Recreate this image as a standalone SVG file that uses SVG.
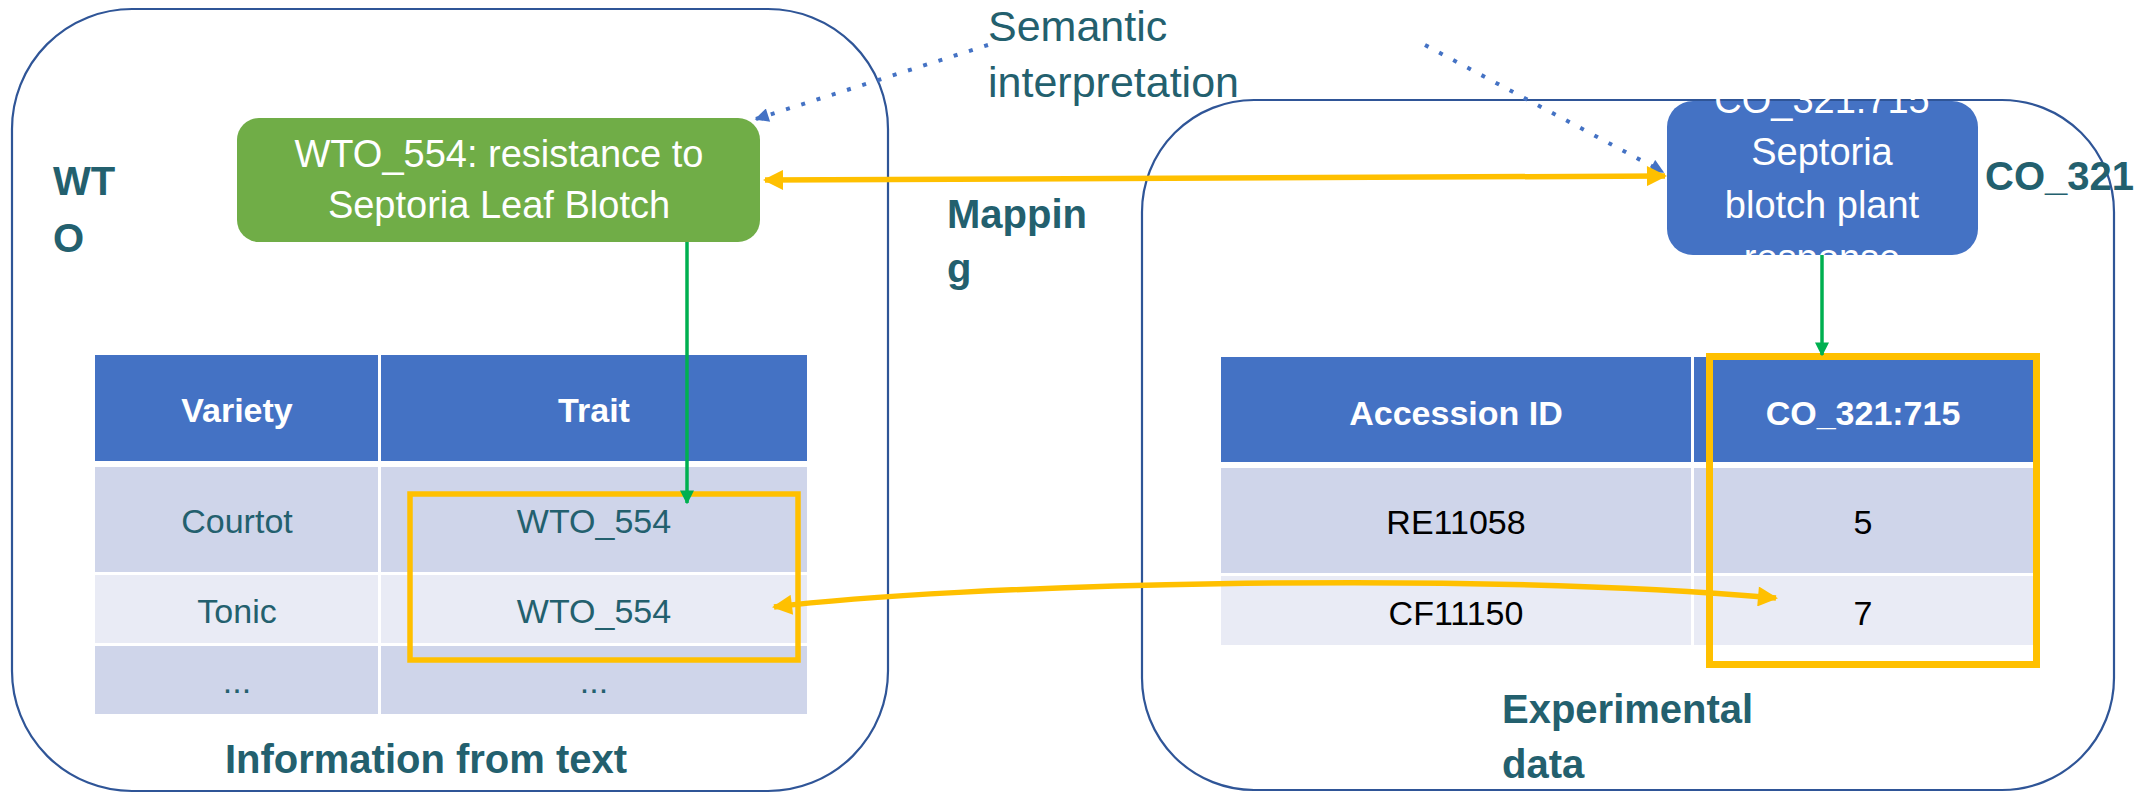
<svg xmlns="http://www.w3.org/2000/svg" width="2134" height="794" viewBox="0 0 2134 794">
<style>
text{font-family:"Liberation Sans",Arial,sans-serif}
.cont{fill:none;stroke:#2f5597;stroke-width:2.2}
.lbl{font-weight:bold;font-size:40px;fill:#23606e}
.sem{font-size:43px;fill:#23606e}
.box{font-size:38px;fill:#ffffff;text-anchor:middle}
.hd{font-weight:bold;font-size:34px;fill:#ffffff;text-anchor:middle}
.tl{font-size:34px;fill:#23606e;text-anchor:middle}
.tr{font-size:34px;fill:#000000;text-anchor:middle}
.h{fill:#4472c4}
.r1{fill:#cfd5ea}
.r2{fill:#e9ebf5}
.yl{fill:none;stroke:#ffc000;stroke-width:5.5}
.gl{fill:none;stroke:#00b050;stroke-width:3.5}
.dl{fill:none;stroke:#4472c4;stroke-width:4;stroke-dasharray:4 12}
</style>
<defs>
<marker id="ya" viewBox="0 0 10 10" refX="9" refY="5" markerWidth="22" markerHeight="20" markerUnits="userSpaceOnUse" orient="auto-start-reverse"><path d="M0,0 L10,5 L0,10 z" fill="#ffc000"/></marker>
<marker id="ga" viewBox="0 0 10 10" refX="9" refY="5" markerWidth="14" markerHeight="14" markerUnits="userSpaceOnUse" orient="auto"><path d="M0,0 L10,5 L0,10 z" fill="#00b050"/></marker>
<marker id="ba" viewBox="0 0 10 10" refX="9" refY="5" markerWidth="16" markerHeight="14" markerUnits="userSpaceOnUse" orient="auto"><path d="M0,0 L10,5 L0,10 z" fill="#4472c4"/></marker>
</defs>
<rect width="2134" height="794" fill="#ffffff"/>

<g id="wto-container">
<rect class="cont" x="12" y="9" width="876" height="782" rx="120" ry="120"/>
<text class="lbl" x="53" y="195">WT</text>
<text class="lbl" x="53" y="252">O</text>
<text class="lbl" x="426" y="773" text-anchor="middle">Information from text</text>
</g>

<g id="co-container">
<rect class="cont" x="1142" y="100" width="972" height="690" rx="112" ry="112"/>
<text class="lbl" x="1502" y="723">Experimental</text>
<text class="lbl" x="1502" y="778">data</text>
</g>

<g id="left-table">
<rect class="h" x="95" y="355" width="283" height="106"/>
<rect class="h" x="381" y="355" width="426" height="106"/>
<rect class="r1" x="95" y="467" width="283" height="105"/>
<rect class="r1" x="381" y="467" width="426" height="105"/>
<rect class="r2" x="95" y="575" width="283" height="68"/>
<rect class="r2" x="381" y="575" width="426" height="68"/>
<rect class="r1" x="95" y="646" width="283" height="68"/>
<rect class="r1" x="381" y="646" width="426" height="68"/>
<text class="hd" x="237" y="422">Variety</text>
<text class="hd" x="594" y="422">Trait</text>
<text class="tl" x="237" y="533">Courtot</text>
<text class="tl" x="594" y="533">WTO_554</text>
<text class="tl" x="237" y="623">Tonic</text>
<text class="tl" x="594" y="623">WTO_554</text>
<text class="tl" x="237" y="693">...</text>
<text class="tl" x="594" y="693">...</text>
</g>

<g id="right-table">
<rect class="h" x="1221" y="357" width="470" height="105"/>
<rect class="h" x="1694" y="357" width="339" height="105"/>
<rect class="r1" x="1221" y="468" width="470" height="105"/>
<rect class="r1" x="1694" y="468" width="339" height="105"/>
<rect class="r2" x="1221" y="576" width="470" height="69"/>
<rect class="r2" x="1694" y="576" width="339" height="69"/>
<text class="hd" x="1456" y="425">Accession ID</text>
<text class="hd" x="1863" y="425">CO_321:715</text>
<text class="tr" x="1456" y="534">RE11058</text>
<text class="tr" x="1863" y="534">5</text>
<text class="tr" x="1456" y="625">CF11150</text>
<text class="tr" x="1863" y="625">7</text>
</g>

<g id="wto-554">
<rect x="237" y="118" width="523" height="124" rx="22" ry="22" fill="#70ad47"/>
<text class="box" x="499" y="167">WTO_554: resistance to</text>
<text class="box" x="499" y="218">Septoria Leaf Blotch</text>
</g>

<g id="co-321-715">
<rect x="1667" y="101" width="311" height="154" rx="26" ry="26" fill="#4472c4"/>
<text class="box" x="1822" y="113">CO_321:715</text>
<text class="box" x="1822" y="165">Septoria</text>
<text class="box" x="1822" y="218">blotch plant</text>
<text class="box" x="1822" y="271">response</text>
</g>

<g id="labels">
<text class="lbl" x="1985" y="190">CO_321</text>
<text class="lbl" x="947" y="228">Mappin</text>
<text class="lbl" x="947" y="282">g</text>
<text class="sem" x="988" y="41">Semantic</text>
<text class="sem" x="988" y="97">interpretation</text>
</g>

<g id="highlights">
<rect class="yl" x="410" y="494" width="388" height="166"/>
<rect x="1709.5" y="356.5" width="327" height="308" fill="none" stroke="#ffc000" stroke-width="7"/>
</g>

<g id="connectors">
<path class="dl" d="M988 45 L756 119" marker-end="url(#ba)"/>
<path class="dl" d="M1425 45 L1663 172" marker-end="url(#ba)"/>
<path class="yl" d="M765 180 L1665 176" marker-start="url(#ya)" marker-end="url(#ya)"/>
<path class="gl" d="M687 242 L687 503" marker-end="url(#ga)"/>
<path class="gl" d="M1822 255 L1822 355" marker-end="url(#ga)"/>
<path class="yl" d="M774 607 C950 585 1450 570 1776 598" marker-start="url(#ya)" marker-end="url(#ya)"/>
</g>
</svg>
